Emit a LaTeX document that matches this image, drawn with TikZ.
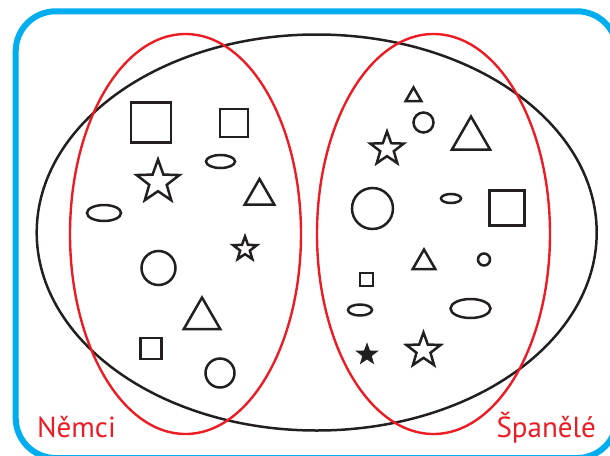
\documentclass[tikz,border=0pt]{standalone}
\usepackage{fontspec}
\setmainfont{PT Sans}
\usetikzlibrary{shapes.geometric}
\definecolor{frameblue}{HTML}{00AEEF}
\definecolor{setred}{HTML}{ED1C24}
\definecolor{ink}{HTML}{231F20}
\tikzset{
  shp/.style={draw=ink, line width=2.5pt, inner sep=0pt, outer sep=0pt},
  sq/.style={shp, rectangle, minimum size=#1},
  circ/.style={shp, circle, minimum size=#1},
  ell/.style 2 args={shp, ellipse, minimum width=#1, minimum height=#2},
  tri/.style={shp, regular polygon, regular polygon sides=3, minimum size=#1},
  starshape/.style={shp, star, star points=5, star point ratio=2.45, minimum size=#1},
  redset/.style={draw=setred, line width=2.4pt, ellipse, inner sep=0pt},
  lbl/.style={text=setred, font=\fontsize{29}{30}\selectfont, inner sep=0pt},
}
\begin{document}
\begin{tikzpicture}[x=1pt, y=-1pt]
\useasboundingbox (0,0) rectangle (610,455);
% frame
\draw[frameblue, line width=6pt, rounded corners=40pt] (15.7,11.3) rectangle (617,458);
% universe ellipse
\node[draw=ink, line width=2.5pt, ellipse, inner sep=0pt, minimum width=560pt, minimum height=396pt] (all) at (316.7,232.5) {};
% sets
\node[redset, minimum width=231pt, minimum height=400pt] (nem) at (185.5,234) {};
\node[redset, minimum width=233pt, minimum height=400pt] (spa) at (433.5,234) {};
% labels
\node[lbl, anchor=base west] (lnem) at (37,437) {Němci};
\node[lbl, anchor=base east] (lspa) at (596,437) {Španělé};
% left shapes
\node[sq=40pt] (q1) at (151,122.5) {};
\node[sq=28pt] (q2) at (234,123) {};
\node[ell={29pt}{13pt}] (e1) at (220.5,161.5) {};
\node[starshape=45pt] (s1) at (158,182) {};
\node[tri=34pt] (t1) at (259.5,196) {};
\node[ell={34pt}{16pt}] (e2) at (104,213) {};
\node[starshape=25pt] (s2) at (245,249) {};
\node[circ=34pt] (c1) at (158.5,268) {};
\node[tri=42pt] (t2) at (202,318.5) {};
\node[sq=21pt] (q3) at (151,348.5) {};
\node[circ=29pt] (c2) at (220,373) {};
% right shapes
\node[tri=18pt] (t3) at (413.5,96.5) {};
\node[circ=20pt] (c3) at (423.5,122.5) {};
\node[tri=44pt] (t4) at (471,138.5) {};
\node[starshape=35pt] (s3) at (387,149) {};
\node[circ=41pt] (c4) at (372.5,208.5) {};
\node[ell={20pt}{9pt}] (e3) at (451,198.5) {};
\node[sq=35pt] (q4) at (507,208) {};
\node[tri=26pt] (t5) at (424,262.5) {};
\node[circ=12pt] (c5) at (484,259.5) {};
\node[sq=13pt] (q5) at (366.5,279.5) {};
\node[ell={24pt}{11pt}] (e4) at (360,310) {};
\node[ell={40pt}{19pt}] (e5) at (470.5,308.5) {};
\node[starshape=17pt, fill=ink] (s4) at (367,354.5) {};
\node[starshape=36pt] (s5) at (423.5,350.5) {};
\end{tikzpicture}
\end{document}
